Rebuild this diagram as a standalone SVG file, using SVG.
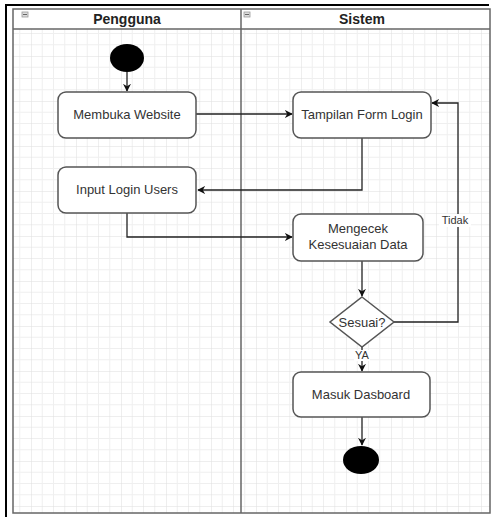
<svg xmlns="http://www.w3.org/2000/svg" width="493" height="517" viewBox="0 0 493 517">
<defs>
<pattern id="grid" patternUnits="userSpaceOnUse" x="31" y="11" width="45" height="45">
<path d="M11.25 0V45M22.5 0V45M33.75 0V45M0 11.25H45M0 22.5H45M0 33.75H45" stroke="#efefef" stroke-width="1" fill="none"/>
<path d="M0 0V45M0 0H45" stroke="#dedede" stroke-width="1" fill="none"/>
</pattern>
<marker id="arr" viewBox="0 0 10 10" refX="9" refY="5" markerWidth="8" markerHeight="8" markerUnits="userSpaceOnUse" orient="auto">
<path d="M0 0L10 5L0 10L3 5Z" fill="#111"/>
</marker>
<style>
.node{fill:#fff;stroke:#555;stroke-width:1.5}
.t{font-family:"Liberation Sans",Arial,sans-serif;font-size:13px;fill:#333;text-anchor:middle}
.h{font-family:"Liberation Sans",Arial,sans-serif;font-size:14px;font-weight:bold;fill:#222;text-anchor:middle}
.lbl{font-family:"Liberation Sans",Arial,sans-serif;font-size:11px;fill:#333;text-anchor:middle}
.edge{fill:none;stroke:#222;stroke-width:1.3;marker-end:url(#arr)}
.pool{fill:none;stroke:#666;stroke-width:1.5}
</style>
</defs>
<rect width="493" height="517" fill="#fff"/>
<g id="frame">
<path d="M6 517V5H489" fill="none" stroke="#000" stroke-width="2"/>
</g>
<g id="pool">
<rect x="13" y="29" width="477" height="484" fill="url(#grid)"/>
<rect x="13" y="9" width="477" height="20" fill="#fff"/>
<rect class="pool" x="13" y="9" width="477" height="504"/>
<line class="pool" x1="13" y1="29" x2="490" y2="29"/>
<line class="pool" x1="241" y1="9" x2="241" y2="513"/>
</g>
<g id="lane-pengguna">
<rect x="22" y="12" width="6" height="5" fill="#ddd" stroke="#999" stroke-width="0.8"/>
<line x1="23" y1="14.5" x2="27" y2="14.5" stroke="#666" stroke-width="1"/>
<text class="h" x="127" y="24">Pengguna</text>
</g>
<g id="lane-sistem">
<rect x="244" y="12" width="6" height="5" fill="#ddd" stroke="#999" stroke-width="0.8"/>
<line x1="245" y1="14.5" x2="249" y2="14.5" stroke="#666" stroke-width="1"/>
<text class="h" x="362" y="24">Sistem</text>
</g>
<g id="connectors">
<path class="edge" d="M127 72V91"/>
<path class="edge" d="M196 114H292"/>
<path class="edge" d="M362 138V190H198"/>
<path class="edge" d="M127 213V237H292"/>
<path class="edge" d="M362 261V296"/>
<path class="edge" d="M394 322H458V103H432"/>
<path class="edge" d="M362 347V371"/>
<path class="edge" d="M362 417V445"/>
<rect x="439" y="214" width="32" height="13" fill="#fff"/>
<text class="lbl" x="455" y="224">Tidak</text>
<rect x="354" y="350" width="16" height="11" fill="#fff"/>
<text class="lbl" x="362" y="359">YA</text>
</g>
<g id="start">
<ellipse cx="127" cy="58" rx="17" ry="14" fill="#000"/>
</g>
<g id="membuka-website">
<rect class="node" x="58" y="92" width="138" height="46" rx="8"/>
<text class="t" x="127" y="119">Membuka Website</text>
</g>
<g id="tampilan-form-login">
<rect class="node" x="293" y="92" width="138" height="46" rx="8"/>
<text class="t" x="362" y="119">Tampilan Form Login</text>
</g>
<g id="input-login-users">
<rect class="node" x="58" y="167" width="138" height="46" rx="8"/>
<text class="t" x="127" y="194">Input Login Users</text>
</g>
<g id="mengecek">
<rect class="node" x="293" y="214" width="130" height="47" rx="8"/>
<text class="t" x="358" y="233">Mengecek</text>
<text class="t" x="358" y="249">Kesesuaian Data</text>
</g>
<g id="sesuai">
<path class="node" d="M362 297L394 322L362 347L330 322Z"/>
<text class="t" x="362" y="327">Sesuai?</text>
</g>
<g id="masuk-dasboard">
<rect class="node" x="293" y="372" width="137" height="45" rx="8"/>
<text class="t" x="361" y="399">Masuk Dasboard</text>
</g>
<g id="end">
<ellipse cx="361" cy="460" rx="18" ry="14" fill="#000"/>
</g>
</svg>
